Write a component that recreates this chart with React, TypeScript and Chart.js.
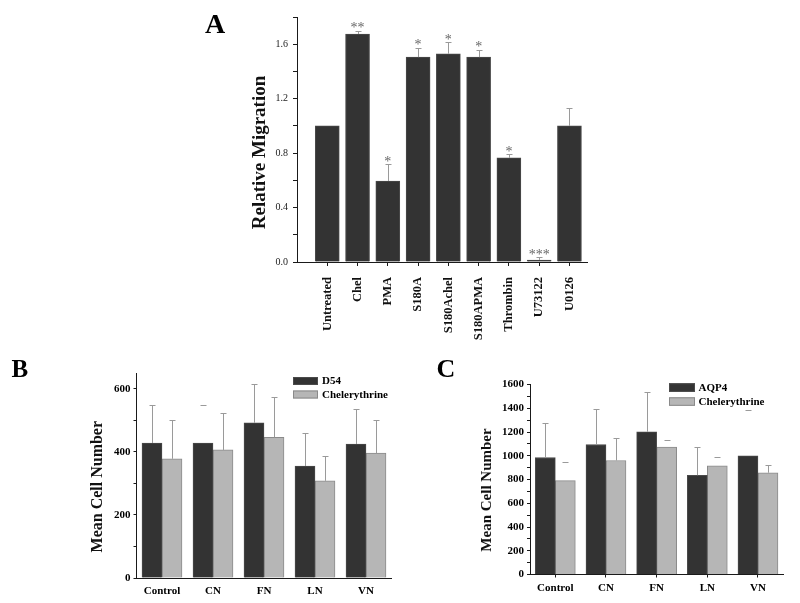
import React, { useEffect, useRef } from 'react';
import { Chart, registerables } from 'chart.js';

Chart.register(...registerables);

const FONT = '"Liberation Serif", "Times New Roman", Times, serif';

// ---------- Panel A data ----------
const aCategories = ['Untreated', 'Chel', 'PMA', 'S180A', 'S180Achel', 'S180APMA', 'Thrombin', 'U73122', 'U0126'];
const aValues = [1.0, 1.675, 0.595, 1.505, 1.53, 1.505, 0.765, 0.015, 1.0];
const aErrors = [0, 0.025, 0.125, 0.07, 0.085, 0.055, 0.025, 0.02, 0.13];
const aSignif = ['', '**', '*', '*', '*', '*', '*', '***', ''];
const aYTicks = [0, 0.2, 0.4, 0.6, 0.8, 1.0, 1.2, 1.4, 1.6, 1.8];
const aYLabels = [0, 0.4, 0.8, 1.2, 1.6];

// ---------- Panel B data ----------
const bCategories = ['Control', 'CN', 'FN', 'LN', 'VN'];
const bD54 = [428, 428, 492, 355, 425];
const bD54Err = [120, 120, 123, 105, 110];
const bD54ErrLine = [true, false, true, true, true];
const bChel = [378, 406, 446, 308, 396];
const bChelErr = [123, 116, 127, 80, 106];
const bChelErrLine = [true, true, true, true, true];
const bYTicks = [0, 100, 200, 300, 400, 500, 600];
const bYLabels = [0, 200, 400, 600];

// ---------- Panel C data ----------
const cCategories = ['Control', 'CN', 'FN', 'LN', 'VN'];
const cAQP4 = [985, 1095, 1202, 836, 1000];
const cAQP4Err = [292, 300, 335, 239, 385];
const cAQP4ErrLine = [true, true, true, true, false];
const cChel = [790, 960, 1073, 915, 857];
const cChelErr = [160, 188, 60, 75, 68];
const cChelErrLine = [false, true, false, false, true];
const cYTicks = [0, 100, 200, 300, 400, 500, 600, 700, 800, 900, 1000, 1100, 1200, 1300, 1400, 1500, 1600];
const cYLabels = [0, 200, 400, 600, 800, 1000, 1200, 1400, 1600];

const DARK = '#333333';
const DARK_EDGE = '#4a4a4a';
const LIGHT = '#b6b6b6';
const LIGHT_EDGE = '#8a8a8a';
const ERR = '#9a9a9a';
const AXIS = '#1a1a1a';

const near = (list: number[], v: number) => list.some((l) => Math.abs(l - v) < 1e-6);

function yValueOf(d: any) {
  return typeof d === 'number' ? d : d.y;
}

function errorBarsPlugin(errs: number[][], lines: boolean[][]) {
  return {
    id: 'errbars',
    afterDatasetsDraw(chart: any) {
      const ctx = chart.ctx;
      const ys = chart.scales.y;
      ctx.save();
      ctx.strokeStyle = ERR;
      ctx.lineWidth = 1;
      chart.data.datasets.forEach((ds: any, di: number) => {
        const meta = chart.getDatasetMeta(di);
        meta.data.forEach((bar: any, i: number) => {
          const e = errs[di][i];
          if (!e) return;
          const v = yValueOf(ds.data[i]);
          const top = Math.round(ys.getPixelForValue(v + e)) + 0.5;
          const base = ys.getPixelForValue(v);
          const x = Math.round(bar.x) + 0.5;
          ctx.beginPath();
          if (lines[di][i]) {
            ctx.moveTo(x, base);
            ctx.lineTo(x, top);
          }
          ctx.moveTo(x - 3, top);
          ctx.lineTo(x + 3, top);
          ctx.stroke();
        });
      });
      ctx.restore();
    },
  };
}

function decorPlugin(o: {
  letter: string; letterX: number; letterY: number; letterSize: number;
  title: string; titleX: number; titleY: number; titleSize: number;
}) {
  return {
    id: 'decor',
    afterDraw(chart: any) {
      const ctx = chart.ctx;
      ctx.save();
      ctx.fillStyle = '#000';
      ctx.font = `bold ${o.letterSize}px ${FONT}`;
      ctx.textAlign = 'left';
      ctx.textBaseline = 'alphabetic';
      ctx.fillText(o.letter, o.letterX, o.letterY);
      ctx.translate(o.titleX, o.titleY);
      ctx.rotate(-Math.PI / 2);
      ctx.font = `bold ${o.titleSize}px ${FONT}`;
      ctx.textAlign = 'center';
      ctx.textBaseline = 'middle';
      ctx.fillStyle = '#111';
      ctx.fillText(o.title, 0, 0);
      ctx.restore();
    },
  };
}

function legendPlugin(o: { x: number; y1: number; y2: number; w: number; h: number; textX: number }) {
  return {
    id: 'customLegend',
    afterDraw(chart: any) {
      const ctx = chart.ctx;
      ctx.save();
      const ys = [o.y1, o.y2];
      chart.data.datasets.forEach((ds: any, i: number) => {
        const y = ys[i];
        ctx.fillStyle = ds.backgroundColor;
        ctx.fillRect(o.x, y, o.w, o.h);
        ctx.strokeStyle = ds.borderColor;
        ctx.lineWidth = 1;
        ctx.strokeRect(o.x + 0.5, y + 0.5, o.w - 1, o.h - 1);
        ctx.fillStyle = '#000';
        ctx.font = `bold 11px ${FONT}`;
        ctx.textAlign = 'left';
        ctx.textBaseline = 'middle';
        ctx.fillText(ds.label, o.textX, y + o.h / 2 + 0.5);
      });
      ctx.restore();
    },
  };
}

function signifPlugin() {
  return {
    id: 'signif',
    afterDatasetsDraw(chart: any) {
      const ctx = chart.ctx;
      const ys = chart.scales.y;
      const meta = chart.getDatasetMeta(0);
      ctx.save();
      ctx.fillStyle = '#666';
      ctx.font = `14px ${FONT}`;
      ctx.textAlign = 'center';
      ctx.textBaseline = 'alphabetic';
      meta.data.forEach((bar: any, i: number) => {
        const s = aSignif[i];
        if (!s) return;
        const top = ys.getPixelForValue(aValues[i] + aErrors[i]);
        ctx.fillText(s, bar.x, top + 1.5);
      });
      ctx.restore();
    },
  };
}

function configA(): any {
  return {
    type: 'bar',
    data: {
      datasets: [
        {
          label: 'Relative Migration',
          data: aValues.map((v, i) => ({ x: i, y: v })),
          backgroundColor: DARK,
          borderColor: DARK_EDGE,
          borderWidth: 1,
          barThickness: 24,
        },
      ],
    },
    options: {
      responsive: false,
      animation: false,
      layout: { padding: { left: 0, top: 17, right: 63, bottom: 0 } },
      plugins: { legend: { display: false }, tooltip: { enabled: false } },
      scales: {
        x: {
          type: 'linear',
          min: -1,
          max: 8.58,
          offset: false,
          afterBuildTicks: (s: any) => {
            s.ticks = aCategories.map((_, i) => ({ value: i }));
          },
          afterFit: (s: any) => {
            s.height = 83;
            s.paddingLeft = 0;
            s.paddingRight = 0;
          },
          ticks: {
            autoSkip: false,
            maxRotation: 90,
            minRotation: 90,
            padding: 11,
            color: '#111',
            font: { family: FONT, size: 12.5, weight: 'bold' },
            callback: (v: number) => aCategories[Math.round(v)] ?? '',
          },
          grid: { offset: false, drawOnChartArea: false, drawTicks: true, tickLength: 4, color: AXIS },
          border: { display: true, color: AXIS, width: 1 },
        },
        y: {
          min: 0,
          max: 1.8,
          afterBuildTicks: (s: any) => {
            s.ticks = aYTicks.map((v) => ({ value: v }));
          },
          afterFit: (s: any) => {
            s.width = 147;
            s.paddingTop = 0;
            s.paddingBottom = 0;
          },
          ticks: {
            autoSkip: false,
            padding: 5,
            color: '#222',
            font: { family: FONT, size: 10 },
            callback: (v: number) => (near(aYLabels, v) ? v.toFixed(1) : ''),
          },
          grid: { drawOnChartArea: false, drawTicks: true, tickLength: 4, color: AXIS },
          border: { display: true, color: AXIS, width: 1 },
        },
      },
    },
    plugins: [
      errorBarsPlugin([aErrors], [aErrors.map(() => true)]),
      signifPlugin(),
      decorPlugin({
        letter: 'A', letterX: 55, letterY: 33, letterSize: 28,
        title: 'Relative Migration', titleX: 110, titleY: 152.5, titleSize: 19,
      }),
    ],
  };
}

function groupedConfig(p: {
  categories: string[];
  labels: [string, string];
  values: [number[], number[]];
  errs: [number[], number[]];
  errLines: [boolean[], boolean[]];
  yMax: number;
  yTicks: number[];
  yLabels: number[];
  yWidth: number;
  xHeight: number;
  padRight: number;
  padTop: number;
  xTickLen: number;
  decor: any;
  legend: any;
}): any {
  return {
    type: 'bar',
    data: {
      labels: p.categories,
      datasets: [
        {
          label: p.labels[0],
          data: p.values[0],
          backgroundColor: DARK,
          borderColor: DARK_EDGE,
          borderWidth: 1,
          barThickness: 20,
        },
        {
          label: p.labels[1],
          data: p.values[1],
          backgroundColor: LIGHT,
          borderColor: LIGHT_EDGE,
          borderWidth: 1,
          barThickness: 20,
        },
      ],
    },
    options: {
      responsive: false,
      animation: false,
      layout: { padding: { left: 0, top: p.padTop, right: p.padRight, bottom: 0 } },
      plugins: { legend: { display: false }, tooltip: { enabled: false } },
      scales: {
        x: {
          offset: true,
          afterFit: (s: any) => {
            s.height = p.xHeight;
            s.paddingLeft = 0;
            s.paddingRight = 0;
          },
          ticks: {
            autoSkip: false,
            maxRotation: 0,
            minRotation: 0,
            padding: p.xTickLen ? 4 : 7,
            color: '#000',
            font: { family: FONT, size: 11, weight: 'bold' },
          },
          grid: {
            offset: false,
            drawOnChartArea: false,
            drawTicks: p.xTickLen > 0,
            tickLength: p.xTickLen,
            color: AXIS,
          },
          border: { display: true, color: AXIS, width: 1 },
        },
        y: {
          min: 0,
          max: p.yMax,
          afterBuildTicks: (s: any) => {
            s.ticks = p.yTicks.map((v) => ({ value: v }));
          },
          afterFit: (s: any) => {
            s.width = p.yWidth;
            s.paddingTop = 0;
            s.paddingBottom = 0;
          },
          ticks: {
            autoSkip: false,
            padding: 3,
            color: '#000',
            font: { family: FONT, size: 11, weight: 'bold' },
            callback: (v: number) => (near(p.yLabels, v) ? String(v) : ''),
          },
          grid: { drawOnChartArea: false, drawTicks: true, tickLength: 3, color: AXIS },
          border: { display: true, color: AXIS, width: 1 },
        },
      },
    },
    plugins: [errorBarsPlugin(p.errs, p.errLines), legendPlugin(p.legend), decorPlugin(p.decor)],
  };
}

function configB(): any {
  return groupedConfig({
    categories: bCategories,
    labels: ['D54', 'Chelerythrine'],
    values: [bD54, bChel],
    errs: [bD54Err, bChelErr],
    errLines: [bD54ErrLine, bChelErrLine],
    yMax: 650,
    yTicks: bYTicks,
    yLabels: bYLabels,
    yWidth: 136.5,
    xHeight: 25,
    padRight: 8.5,
    padTop: 28,
    xTickLen: 0,
    legend: { x: 293, y1: 32, y2: 45.5, w: 25, h: 8, textX: 322 },
    decor: {
      letter: 'B', letterX: 11.5, letterY: 31.7, letterSize: 25,
      title: 'Mean Cell Number', titleX: 98, titleY: 141.7, titleSize: 16,
    },
  });
}

function configC(): any {
  return groupedConfig({
    categories: cCategories,
    labels: ['AQP4', 'Chelerythrine'],
    values: [cAQP4, cChel],
    errs: [cAQP4Err, cChelErr],
    errLines: [cAQP4ErrLine, cChelErrLine],
    yMax: 1600,
    yTicks: cYTicks,
    yLabels: cYLabels,
    yWidth: 130,
    xHeight: 28.5,
    padRight: 16.7,
    padTop: 39.5,
    xTickLen: 3,
    legend: { x: 269, y1: 38.3, y2: 52.3, w: 26, h: 8.5, textX: 298.5 },
    decor: {
      letter: 'C', letterX: 36.5, letterY: 31.5, letterSize: 26,
      title: 'Mean Cell Number', titleX: 86.7, titleY: 145, titleSize: 15,
    },
  });
}

function ChartCanvas(props: { make: () => any; left: number; top: number; width: number; height: number }) {
  const ref = useRef<HTMLCanvasElement>(null);
  useEffect(() => {
    const chart = new Chart(ref.current as HTMLCanvasElement, props.make());
    return () => chart.destroy();
  }, []);
  return (
    <canvas
      ref={ref}
      width={props.width}
      height={props.height}
      style={{ position: 'absolute', left: props.left, top: props.top, width: props.width, height: props.height }}
    />
  );
}

export default function App() {
  return (
    <div style={{ position: 'absolute', left: 0, top: 0, width: 800, height: 603, background: '#fff', overflow: 'hidden' }}>
      <ChartCanvas make={configA} left={150} top={0} width={500} height={345} />
      <ChartCanvas make={configB} left={0} top={345} width={400} height={258} />
      <ChartCanvas make={configC} left={400} top={345} width={400} height={258} />
    </div>
  );
}
